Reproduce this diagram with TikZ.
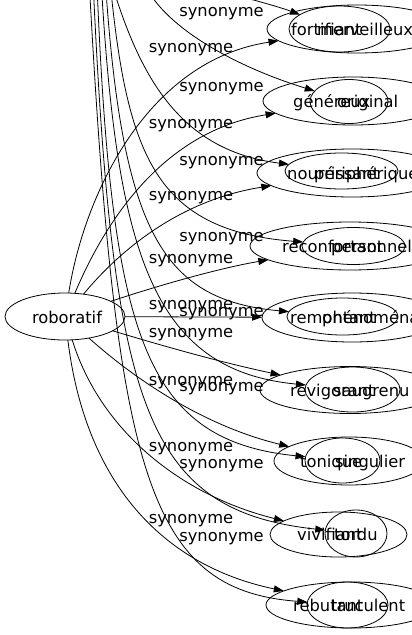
\documentclass[tikz,border=0pt]{standalone}
\usepackage{fontspec}
\setmainfont{DejaVu Sans}
\usetikzlibrary{shapes.geometric,arrows.meta}
\begin{document}
\begin{tikzpicture}[x=1pt,y=-1pt,
  ell/.style={draw,ellipse,inner sep=0pt,outer sep=0pt,line width=0.8pt},
  wd/.style={inner sep=0pt,anchor=base west,font=\fontsize{16.3}{18}\selectfont},
  lab/.style={inner sep=0pt,anchor=base,font=\fontsize{16.3}{18}\selectfont},
  edg/.style={draw,line width=0.8pt,-{Triangle[length=10pt,width=7pt]}}]
\useasboundingbox (0,0) rectangle (412,635);
\clip (0,0) rectangle (412,635);
% centre node
\node[ell,minimum width=120pt,minimum height=47pt] (robo) at (65,316.5) {};
\node[lab] (trobo) at (67,323) {roboratif};
% outer ellipses
\node[ell,minimum width=180pt,minimum height=48pt] (o1) at (357,29) {};
\node[ell,minimum width=180pt,minimum height=48pt] (o2) at (353,101) {};
\node[ell,minimum width=190pt,minimum height=48pt] (o3) at (352,173) {};
\node[ell,minimum width=200pt,minimum height=48pt] (o4) at (350,246) {};
\node[ell,minimum width=180pt,minimum height=49pt] (o5) at (352,317.5) {};
\node[ell,minimum width=180pt,minimum height=47pt] (o6) at (350,390) {};
\node[ell,minimum width=150pt,minimum height=48pt] (o7) at (349,461) {};
\node[ell,minimum width=137pt,minimum height=45pt] (o8) at (338.5,534.5) {};
\node[ell,minimum width=170pt,minimum height=46pt] (o9) at (351,605) {};
% inner ellipses
\node[ell,minimum width=101pt,minimum height=46pt] (i1) at (339.5,29) {};
\node[ell,minimum width=78pt,minimum height=44pt] (i2) at (349,101.5) {};
\node[ell,minimum width=113pt,minimum height=36pt] (i3) at (341.5,171) {};
\node[ell,minimum width=103pt,minimum height=37pt] (i4) at (353.5,246) {};
\node[ell,minimum width=111pt,minimum height=37pt] (i5) at (342.5,316.5) {};
\node[ell,minimum width=95pt,minimum height=45pt] (i6) at (352.5,389.5) {};
\node[ell,minimum width=75pt,minimum height=45pt] (i7) at (342.5,460.5) {};
\node[ell,minimum width=62pt,minimum height=47pt] (i8) at (356,533.5) {};
\node[ell,minimum width=81pt,minimum height=46pt] (i9) at (347.5,605) {};
% words
\node[wd] (a1) at (291,35) {fortifiant};
\node[wd] (b1) at (317,35) {merveilleux};
\node[wd] (a2) at (293,107.5) {généreux};
\node[wd] (b2) at (337,107.5) {original};
\node[wd] (a3) at (287,179) {nourrissant};
\node[wd] (b3) at (314,179) {périphérique};
\node[wd] (a4) at (282,252.5) {réconfortant};
\node[wd] (b4) at (331,252.5) {personnel};
\node[wd] (a5) at (290,323.5) {remontant};
\node[wd] (b5) at (322,323.5) {phénoménal};
\node[wd] (a6) at (290,396) {revigorant};
\node[wd] (b6) at (333,396) {saugrenu};
\node[wd] (a7) at (300,467) {tonique};
\node[wd] (b7) at (335,467) {singulier};
\node[wd] (a8) at (297,540) {vivifiant};
\node[wd] (b8) at (334,540) {tordu};
\node[wd] (a9) at (293,611) {rebutant};
\node[wd] (b9) at (331,611) {truculent};
% edge labels, left column
\node[lab] (l1) at (191,52.7) {synonyme};
\node[lab] (l2) at (191,128) {synonyme};
\node[lab] (l3) at (191,200) {synonyme};
\node[lab] (l4) at (191,263.3) {synonyme};
\node[lab] (l5) at (191,309.3) {synonyme};
\node[lab] (l6) at (191,337.7) {synonyme};
\node[lab] (l7) at (191,385.7) {synonyme};
\node[lab] (l8) at (191,451) {synonyme};
\node[lab] (l9) at (191,523.3) {synonyme};
% edge labels, right column
\node[lab] (r2) at (221.5,16.5) {synonyme};
\node[lab] (r3) at (221.5,91.7) {synonyme};
\node[lab] (r4) at (221.5,165.7) {synonyme};
\node[lab] (r5) at (221.5,241) {synonyme};
\node[lab] (r6) at (221.5,316) {synonyme};
\node[lab] (r7) at (221.5,391.7) {synonyme};
\node[lab] (r8) at (221.5,468.3) {synonyme};
\node[lab] (r9) at (221.5,541) {synonyme};
% roboratif edges
\draw[edg] (robo) .. controls (85,190) and (150,60) .. (o1);
\draw[edg] (robo) .. controls (110,210) and (170,130) .. (o2);
\draw[edg] (robo) .. controls (120,250) and (180,200) .. (o3);
\draw[edg] (robo) .. controls (160,285) and (220,268) .. (o4);
\draw[edg] (robo) -- (o5);
\draw[edg] (robo) .. controls (170,348) and (220,362) .. (o6);
\draw[edg] (robo) .. controls (130,375) and (200,425) .. (o7);
\draw[edg] (robo) .. controls (100,430) and (180,495) .. (o8);
\draw[edg] (robo) .. controls (85,480) and (160,565) .. (o9);
% edges from the centre above the picture
\coordinate (s1) at (130,-35);
\coordinate (s2) at (140,-30);
\coordinate (s3) at (105,-40);
\coordinate (s4) at (108,-40);
\coordinate (s5) at (104,-40);
\coordinate (s6) at (100,-40);
\coordinate (s7) at (96,-40);
\coordinate (s8) at (92,-40);
\coordinate (s9) at (88,-40);
\draw[edg] (s1) .. controls (190,-15) and (260,0) .. (i1);
\draw[edg] (s2) .. controls (150,20) and (230,65) .. (i2);
\draw[edg] (s3) .. controls (135,70) and (175,150) .. (i3);
\draw[edg] (s4) .. controls (125,150) and (150,230) .. (i4);
\draw[edg] (s5) .. controls (120,230) and (160,300) .. (i5);
\draw[edg] (s6) .. controls (115,250) and (150,370) .. (i6);
\draw[edg] (s7) .. controls (110,330) and (140,440) .. (i7);
\draw[edg] (s8) .. controls (112,400) and (140,510) .. (i8);
\draw[edg] (s9) .. controls (115,470) and (145,590) .. (i9);
\end{tikzpicture}
\end{document}
